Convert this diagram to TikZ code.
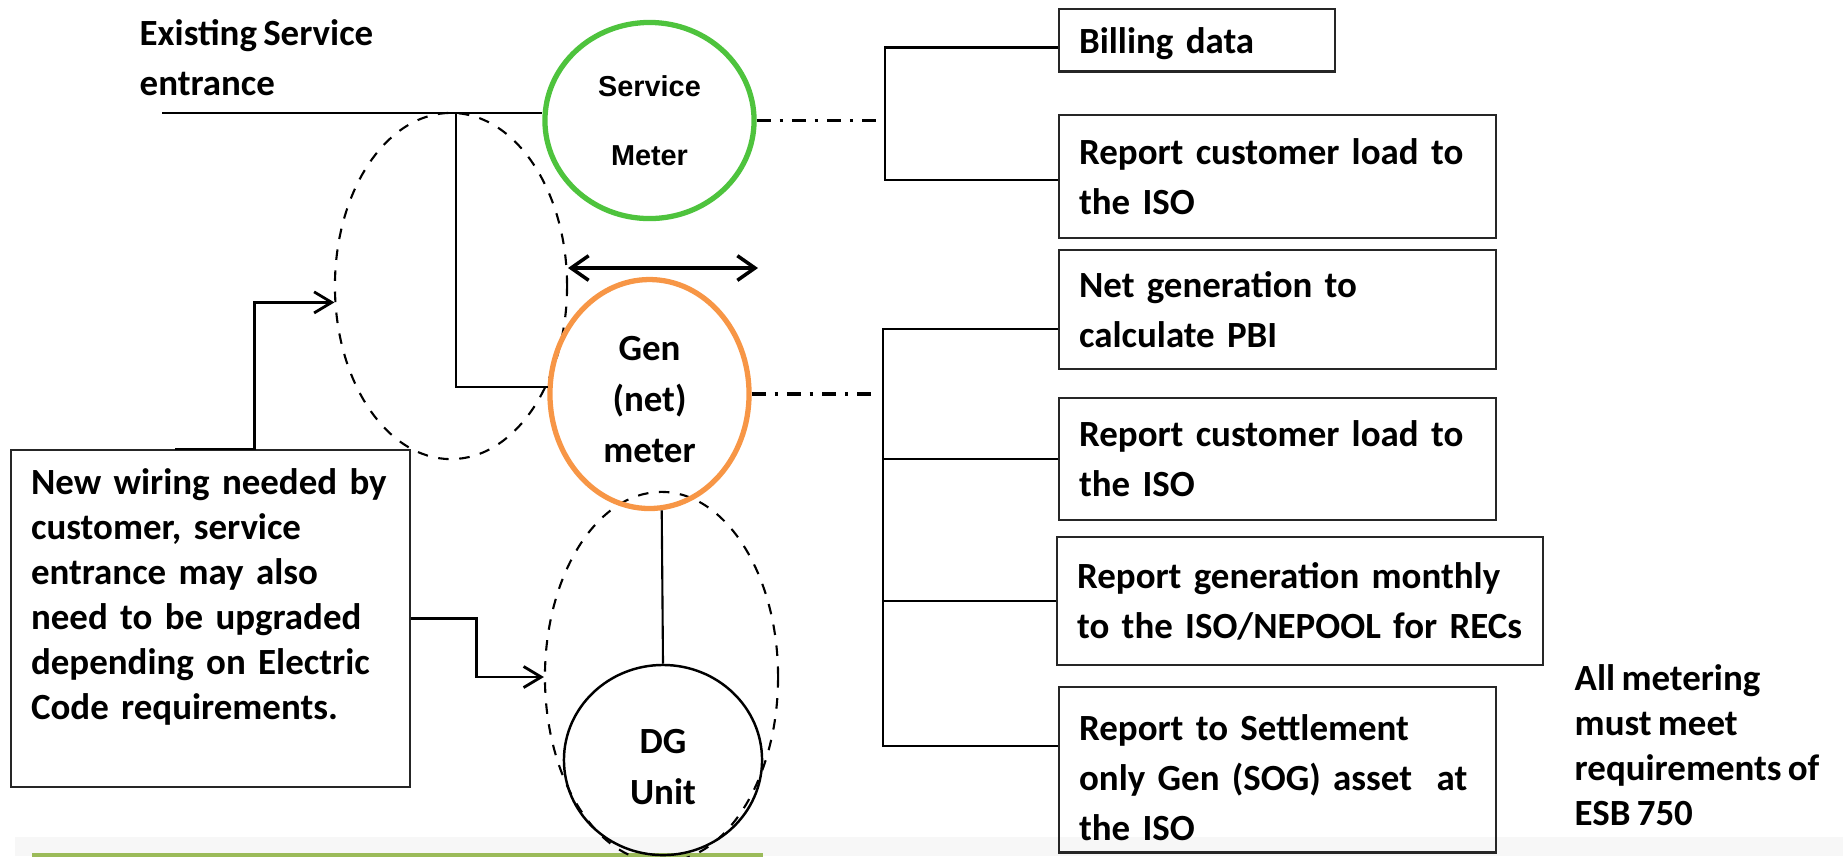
\documentclass[tikz,border=0pt]{standalone}
\usepackage{fontspec}
\setmainfont{Carlito}[WordSpace=0.75]
\newfontfamily\arialfont{Liberation Sans}
\usepackage{tikz}
\usetikzlibrary{shapes.geometric,arrows.meta}

\definecolor{metergreen}{HTML}{4EC33D}
\definecolor{meterorange}{HTML}{F79646}
\definecolor{rulegreen}{HTML}{9BBB59}
\definecolor{bandgray}{HTML}{F7F7F7}

\tikzset{
  lbl/.style={font=\fontsize{10.5}{14.2}\selectfont\bfseries, align=left},
  infobox/.style={lbl, draw=black!85, line width=0.6pt, anchor=north west,
    inner xsep=0.2cm},
  meter/.style={ellipse, line width=1.5pt, align=center,
    font=\fontsize{10.5}{14.6}\selectfont\bfseries},
  group/.style={ellipse, draw, dashed, line width=0.6pt},
  wire/.style={line width=0.6pt},
  brk/.style={line width=0.7pt},
  dashdot/.style={line width=1.1pt, dash pattern=on 4pt off 2.5pt on 1pt off 2.5pt},
  conn/.style={line width=0.8pt, -{Straight Barb[length=5pt,width=6pt]}},
  dbl/.style={line width=1pt, {Straight Barb[length=5pt,width=7pt]}-{Straight Barb[length=5pt,width=7pt]}},
}

\begin{document}
\begin{tikzpicture}[x=0.01cm, y=-0.01cm]
\useasboundingbox (0,0) rectangle (1843,856);
\fill[bandgray] (15,837) rectangle (1843,856);
\draw[rulegreen, line width=1pt] (32,855) -- (763,855);
%
\node[lbl, anchor=west, inner sep=0] (exist) at (139,58) {Existing Service\\entrance};
%
\node[group, minimum width=2.32cm, minimum height=3.46cm] (grpsrv) at (451,286) {};
\node[group, minimum width=2.33cm, minimum height=3.70cm] (grpdg) at (661.5,677) {};
%
\node[meter, draw=metergreen, minimum width=2.09cm, minimum height=1.96cm,
  font=\arialfont\bfseries\fontsize{8.2}{19.6}\selectfont] (sm) at (649.5,120.5) {Service\\Meter};
\node[meter, draw=meterorange, minimum width=1.99cm, minimum height=1.94cm] (gm) at (649.5,394) {\mbox{}\\[-4.5pt]Gen\\(net)\\meter};
\node[meter, draw, line width=0.7pt, minimum width=1.98cm, minimum height=1.90cm] (dg) at (663,760) {\mbox{}\\[-3.9pt]DG\\Unit};
%
\coordinate (entr) at (162,113);
\coordinate (tap) at (456,113);
\draw[wire] (entr) -- (sm.west |- entr);
\draw[wire] (tap) |- (gm.176);
\draw[wire] (gm.-84) -- (dg.north);
%
\coordinate (dblL) at (568,268);
\coordinate (dblR) at (758,268);
\draw[dbl] (dblL) -- (dblR);
%
\draw[dashdot] (sm.east) -- ++(122,0);
\draw[dashdot] (gm.east) -- ++(127,0);
%
\node[infobox, minimum width=2.76cm, minimum height=0.62cm, text width=2.36cm] (bill) at (1058,8) {\mbox{}\\[-4.9pt]Billing data};
\node[infobox, minimum width=4.37cm, minimum height=1.23cm, text width=3.97cm] (rep1) at (1058,114) {Report customer load to\\the ISO};
\node[infobox, minimum width=4.37cm, minimum height=1.19cm, text width=3.97cm] (netgen) at (1058,249) {Net generation to\\calculate PBI};
\node[infobox, minimum width=4.37cm, minimum height=1.22cm, text width=3.97cm] (rep2) at (1058,397) {Report customer load to\\the ISO};
\node[infobox, minimum width=4.86cm, minimum height=1.28cm, text width=4.46cm] (repgen) at (1056,536) {Report generation monthly\\to the ISO/NEPOOL for RECs};
\node[infobox, minimum width=4.37cm, minimum height=1.61cm, text width=3.97cm] (settle) at (1058,686) {\mbox{}\\[-2.3pt]Report to Settlement\\only Gen (SOG) asset\ \ at\\the ISO};
%
\draw[brk] ([yshift=-2pt]bill.west) -- ++(-173,0) |- ([yshift=-1pt]rep1.west);
\draw[brk] ([yshift=-5.5pt]netgen.west) -- ++(-175,0) |- ([yshift=6.7pt]settle.west);
\draw[brk] (rep2.west) -- ++(-175,0);
\draw[brk] (repgen.west) -- ++(-173,0);
%
\node[lbl, anchor=west, inner sep=0, font=\fontsize{10.5}{12.8}\selectfont\bfseries] (note) at (1574,745) {All metering\\must meet\\requirements of\\ESB 750};
%
\node[infobox, minimum width=3.99cm, minimum height=3.37cm, text width=3.59cm,
  font=\fontsize{10.5}{12.8}\selectfont\bfseries] (wire) at (10,449) {New wiring needed by\\customer, service\\entrance may also\\need to be upgraded\\depending on Electric\\Code requirements.\\[1pt]\mbox{}};
\draw[conn] ([xshift=-0.355cm]wire.north) -- ++(79,0) |- (grpsrv.188);
\draw[conn] (wire.east) -- ++(65,0) |- (grpdg.west);
\end{tikzpicture}
\end{document}
